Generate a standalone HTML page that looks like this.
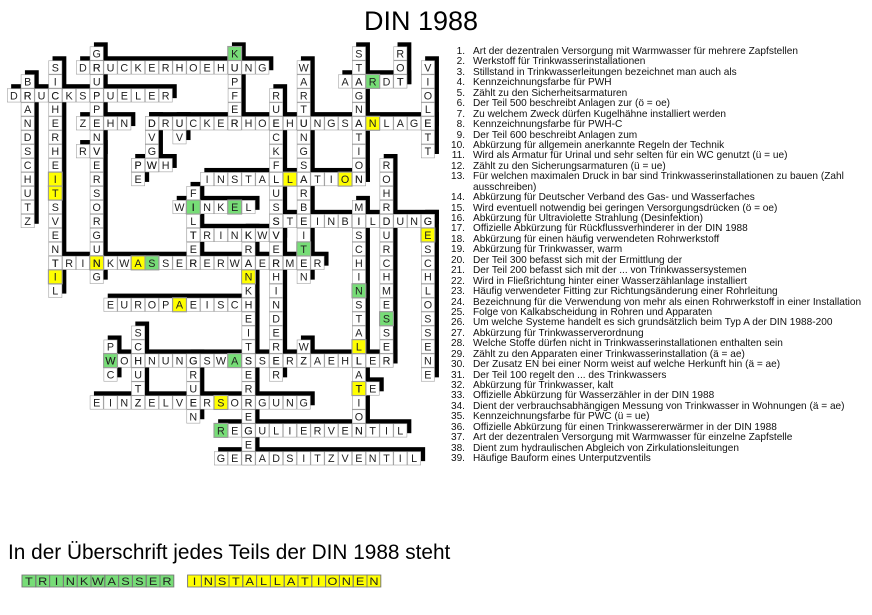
<!DOCTYPE html>
<html><head><meta charset="utf-8"><style>
html,body{margin:0;padding:0;background:#fff;}
body{width:872px;height:615px;position:relative;overflow:hidden;font-family:"Liberation Sans",Arial,sans-serif;}
#title{position:absolute;left:0;width:842px;top:6px;text-align:center;font-size:27px;color:#000;}
#clues{position:absolute;left:445px;top:47px;font-size:10.1px;color:#111;line-height:10.45px;white-space:nowrap;}
#clues div{height:10.45px;}
#clues span{display:inline-block;width:20px;text-align:right;margin-right:8px;}
#bt{position:absolute;left:8px;top:541px;font-size:20.8px;color:#000;white-space:nowrap;}
svg{position:absolute;left:0;top:0;}
</style></head><body>
<div id="title">DIN 1988</div>
<svg width="872" height="615" viewBox="0 0 872 615">
<defs>
<pattern id="p" width="1" height="1" patternUnits="userSpaceOnUse"><rect width="1" height="1" fill="#fff" stroke="#9a9a9a" stroke-width="0.08"/></pattern>
</defs>
<g transform="translate(7,46.5) scale(13.8,13.96)">
<g fill="#000" transform="translate(0.3,-0.3)">
<rect x="5" y="1" width="14" height="1"/><rect x="0" y="3" width="12" height="1"/><rect x="24" y="2" width="5" height="1"/><rect x="5" y="5" width="4" height="1"/><rect x="10" y="5" width="21" height="1"/><rect x="5" y="7" width="2" height="1"/><rect x="9" y="8" width="3" height="1"/><rect x="14" y="9" width="12" height="1"/><rect x="12" y="11" width="6" height="1"/><rect x="19" y="12" width="12" height="1"/><rect x="13" y="13" width="7" height="1"/><rect x="3" y="15" width="20" height="1"/><rect x="7" y="18" width="11" height="1"/><rect x="7" y="22" width="21" height="1"/><rect x="25" y="24" width="2" height="1"/><rect x="6" y="25" width="16" height="1"/><rect x="15" y="27" width="14" height="1"/><rect x="15" y="29" width="15" height="1"/>
<rect x="6" y="0" width="1" height="17"/><rect x="16" y="0" width="1" height="6"/><rect x="3" y="1" width="1" height="17"/><rect x="1" y="2" width="1" height="11"/><rect x="10" y="5" width="1" height="4"/><rect x="12" y="5" width="1" height="2"/><rect x="9" y="8" width="1" height="2"/><rect x="21" y="1" width="1" height="16"/><rect x="19" y="3" width="1" height="21"/><rect x="25" y="0" width="1" height="10"/><rect x="28" y="0" width="1" height="3"/><rect x="30" y="1" width="1" height="7"/><rect x="27" y="8" width="1" height="15"/><rect x="30" y="12" width="1" height="12"/><rect x="25" y="11" width="1" height="17"/><rect x="13" y="10" width="1" height="6"/><rect x="17" y="13" width="1" height="17"/><rect x="7" y="21" width="1" height="3"/><rect x="9" y="20" width="1" height="6"/><rect x="13" y="22" width="1" height="5"/><rect x="21" y="21" width="1" height="2"/>
</g>
<g fill="url(#p)">
<rect x="5" y="1" width="14" height="1"/><rect x="0" y="3" width="12" height="1"/><rect x="24" y="2" width="5" height="1"/><rect x="5" y="5" width="4" height="1"/><rect x="10" y="5" width="21" height="1"/><rect x="5" y="7" width="2" height="1"/><rect x="9" y="8" width="3" height="1"/><rect x="14" y="9" width="12" height="1"/><rect x="12" y="11" width="6" height="1"/><rect x="19" y="12" width="12" height="1"/><rect x="13" y="13" width="7" height="1"/><rect x="3" y="15" width="20" height="1"/><rect x="7" y="18" width="11" height="1"/><rect x="7" y="22" width="21" height="1"/><rect x="25" y="24" width="2" height="1"/><rect x="6" y="25" width="16" height="1"/><rect x="15" y="27" width="14" height="1"/><rect x="15" y="29" width="15" height="1"/>
<rect x="6" y="0" width="1" height="17"/><rect x="16" y="0" width="1" height="6"/><rect x="3" y="1" width="1" height="17"/><rect x="1" y="2" width="1" height="11"/><rect x="10" y="5" width="1" height="4"/><rect x="12" y="5" width="1" height="2"/><rect x="9" y="8" width="1" height="2"/><rect x="21" y="1" width="1" height="16"/><rect x="19" y="3" width="1" height="21"/><rect x="25" y="0" width="1" height="10"/><rect x="28" y="0" width="1" height="3"/><rect x="30" y="1" width="1" height="7"/><rect x="27" y="8" width="1" height="15"/><rect x="30" y="12" width="1" height="12"/><rect x="25" y="11" width="1" height="17"/><rect x="13" y="10" width="1" height="6"/><rect x="17" y="13" width="1" height="17"/><rect x="7" y="21" width="1" height="3"/><rect x="9" y="20" width="1" height="6"/><rect x="13" y="22" width="1" height="5"/><rect x="21" y="21" width="1" height="2"/>
</g>
<g stroke="#9a9a9a" stroke-width="0.08">
<g fill="#77dd77">
<rect x="16" y="0" width="1" height="1"/><rect x="26" y="2" width="1" height="1"/><rect x="13" y="11" width="1" height="1"/><rect x="16" y="11" width="1" height="1"/><rect x="21" y="14" width="1" height="1"/><rect x="10" y="15" width="1" height="1"/><rect x="25" y="17" width="1" height="1"/><rect x="27" y="19" width="1" height="1"/><rect x="7" y="22" width="1" height="1"/><rect x="16" y="22" width="1" height="1"/><rect x="15" y="27" width="1" height="1"/>
</g>
<g fill="#ffff00">
<rect x="26" y="5" width="1" height="1"/><rect x="20" y="9" width="1" height="1"/><rect x="24" y="9" width="1" height="1"/><rect x="3" y="9" width="1" height="1"/><rect x="3" y="10" width="1" height="1"/><rect x="30" y="13" width="1" height="1"/><rect x="6" y="15" width="1" height="1"/><rect x="9" y="15" width="1" height="1"/><rect x="3" y="16" width="1" height="1"/><rect x="17" y="16" width="1" height="1"/><rect x="12" y="18" width="1" height="1"/><rect x="25" y="21" width="1" height="1"/><rect x="25" y="24" width="1" height="1"/><rect x="15" y="25" width="1" height="1"/>
</g>
</g>
<g font-family="Liberation Sans, Arial, sans-serif" font-size="0.78" fill="#222" text-anchor="middle">
<text x="5.5 6.5 7.5 8.5 9.5 10.5 11.5 12.5 13.5 14.5 15.5 16.5 17.5 18.5" y="1.78">DRUCKERHOEHUNG</text>
<text x="0.5 1.5 2.5 3.5 4.5 5.5 6.5 7.5 8.5 9.5 10.5 11.5" y="3.78">DRUCKSPUELER</text>
<text x="24.5 25.5 26.5 27.5 28.5" y="2.78">AARDT</text>
<text x="5.5 6.5 7.5 8.5" y="5.78">ZEHN</text>
<text x="10.5 11.5 12.5 13.5 14.5 15.5 16.5 17.5 18.5 19.5 20.5 21.5 22.5 23.5 24.5 25.5 26.5 27.5 28.5 29.5 30.5" y="5.78">DRUCKERHOEHUNGSANLAGE</text>
<text x="5.5 6.5" y="7.78">RV</text>
<text x="9.5 10.5 11.5" y="8.78">PWH</text>
<text x="14.5 15.5 16.5 17.5 18.5 19.5 20.5 21.5 22.5 23.5 24.5 25.5" y="9.78">INSTALLATION</text>
<text x="12.5 13.5 14.5 15.5 16.5 17.5" y="11.78">WINKEL</text>
<text x="19.5 20.5 21.5 22.5 23.5 24.5 25.5 26.5 27.5 28.5 29.5 30.5" y="12.78">STEINBILDUNG</text>
<text x="13.5 14.5 15.5 16.5 17.5 18.5 19.5" y="13.78">TRINKWV</text>
<text x="3.5 4.5 5.5 6.5 7.5 8.5 9.5 10.5 11.5 12.5 13.5 14.5 15.5 16.5 17.5 18.5 19.5 20.5 21.5 22.5" y="15.78">TRINKWASSERERWAERMER</text>
<text x="7.5 8.5 9.5 10.5 11.5 12.5 13.5 14.5 15.5 16.5 17.5" y="18.78">EUROPAEISCH</text>
<text x="7.5 8.5 9.5 10.5 11.5 12.5 13.5 14.5 15.5 16.5 17.5 18.5 19.5 20.5 21.5 22.5 23.5 24.5 25.5 26.5 27.5" y="22.78">WOHNUNGSWASSERZAEHLER</text>
<text x="25.5 26.5" y="24.78">TE</text>
<text x="6.5 7.5 8.5 9.5 10.5 11.5 12.5 13.5 14.5 15.5 16.5 17.5 18.5 19.5 20.5 21.5" y="25.78">EINZELVERSORGUNG</text>
<text x="15.5 16.5 17.5 18.5 19.5 20.5 21.5 22.5 23.5 24.5 25.5 26.5 27.5 28.5" y="27.78">REGULIERVENTIL</text>
<text x="15.5 16.5 17.5 18.5 19.5 20.5 21.5 22.5 23.5 24.5 25.5 26.5 27.5 28.5 29.5" y="29.78">GERADSITZVENTIL</text>
<text x="6.5 6.5 6.5 6.5 6.5 6.5 6.5 6.5 6.5 6.5 6.5 6.5 6.5 6.5 6.5 6.5 6.5" y="0.78 1.78 2.78 3.78 4.78 5.78 6.78 7.78 8.78 9.78 10.78 11.78 12.78 13.78 14.78 15.78 16.78">GRUPPENVERSORGUNG</text>
<text x="16.5 16.5 16.5 16.5 16.5 16.5" y="0.78 1.78 2.78 3.78 4.78 5.78">KUPFER</text>
<text x="3.5 3.5 3.5 3.5 3.5 3.5 3.5 3.5 3.5 3.5 3.5 3.5 3.5 3.5 3.5 3.5 3.5" y="1.78 2.78 3.78 4.78 5.78 6.78 7.78 8.78 9.78 10.78 11.78 12.78 13.78 14.78 15.78 16.78 17.78">SICHERHEITSVENTIL</text>
<text x="1.5 1.5 1.5 1.5 1.5 1.5 1.5 1.5 1.5 1.5 1.5" y="2.78 3.78 4.78 5.78 6.78 7.78 8.78 9.78 10.78 11.78 12.78">BRANDSCHUTZ</text>
<text x="10.5 10.5 10.5 10.5" y="5.78 6.78 7.78 8.78">DVGW</text>
<text x="12.5 12.5" y="5.78 6.78">UV</text>
<text x="9.5 9.5" y="8.78 9.78">PE</text>
<text x="21.5 21.5 21.5 21.5 21.5 21.5 21.5 21.5 21.5 21.5 21.5 21.5 21.5 21.5 21.5 21.5" y="1.78 2.78 3.78 4.78 5.78 6.78 7.78 8.78 9.78 10.78 11.78 12.78 13.78 14.78 15.78 16.78">WARTUNGSARBEITEN</text>
<text x="19.5 19.5 19.5 19.5 19.5 19.5 19.5 19.5 19.5 19.5 19.5 19.5 19.5 19.5 19.5 19.5 19.5 19.5 19.5 19.5 19.5" y="3.78 4.78 5.78 6.78 7.78 8.78 9.78 10.78 11.78 12.78 13.78 14.78 15.78 16.78 17.78 18.78 19.78 20.78 21.78 22.78 23.78">RUECKFLUSSVERHINDERER</text>
<text x="25.5 25.5 25.5 25.5 25.5 25.5 25.5 25.5 25.5 25.5" y="0.78 1.78 2.78 3.78 4.78 5.78 6.78 7.78 8.78 9.78">STAGNATION</text>
<text x="28.5 28.5 28.5" y="0.78 1.78 2.78">ROT</text>
<text x="30.5 30.5 30.5 30.5 30.5 30.5 30.5" y="1.78 2.78 3.78 4.78 5.78 6.78 7.78">VIOLETT</text>
<text x="27.5 27.5 27.5 27.5 27.5 27.5 27.5 27.5 27.5 27.5 27.5 27.5 27.5 27.5 27.5" y="8.78 9.78 10.78 11.78 12.78 13.78 14.78 15.78 16.78 17.78 18.78 19.78 20.78 21.78 22.78">ROHRDURCHMESSER</text>
<text x="30.5 30.5 30.5 30.5 30.5 30.5 30.5 30.5 30.5 30.5 30.5 30.5" y="12.78 13.78 14.78 15.78 16.78 17.78 18.78 19.78 20.78 21.78 22.78 23.78">GESCHLOSSENE</text>
<text x="25.5 25.5 25.5 25.5 25.5 25.5 25.5 25.5 25.5 25.5 25.5 25.5 25.5 25.5 25.5 25.5 25.5" y="11.78 12.78 13.78 14.78 15.78 16.78 17.78 18.78 19.78 20.78 21.78 22.78 23.78 24.78 25.78 26.78 27.78">MISCHINSTALLATION</text>
<text x="13.5 13.5 13.5 13.5 13.5 13.5" y="10.78 11.78 12.78 13.78 14.78 15.78">FILTER</text>
<text x="17.5 17.5 17.5 17.5 17.5 17.5 17.5 17.5 17.5 17.5 17.5 17.5 17.5 17.5 17.5 17.5 17.5" y="13.78 14.78 15.78 16.78 17.78 18.78 19.78 20.78 21.78 22.78 23.78 24.78 25.78 26.78 27.78 28.78 29.78">KRANKHEITSERREGER</text>
<text x="7.5 7.5 7.5" y="21.78 22.78 23.78">PWC</text>
<text x="9.5 9.5 9.5 9.5 9.5 9.5" y="20.78 21.78 22.78 23.78 24.78 25.78">SCHUTZ</text>
<text x="13.5 13.5 13.5 13.5 13.5" y="22.78 23.78 24.78 25.78 26.78">GRUEN</text>
<text x="21.5 21.5" y="21.78 22.78">WZ</text>
</g>
</g>
<g transform="translate(22,575) scale(13.8,12)">
<rect x="0" y="0" width="11" height="1" fill="#77dd77"/>
<rect x="12" y="0" width="14" height="1" fill="#ffff00"/>
<g stroke="#777" stroke-width="0.07" fill="none">
<rect x="0" y="0" width="1" height="1"/><rect x="1" y="0" width="1" height="1"/><rect x="2" y="0" width="1" height="1"/><rect x="3" y="0" width="1" height="1"/><rect x="4" y="0" width="1" height="1"/><rect x="5" y="0" width="1" height="1"/><rect x="6" y="0" width="1" height="1"/><rect x="7" y="0" width="1" height="1"/><rect x="8" y="0" width="1" height="1"/><rect x="9" y="0" width="1" height="1"/><rect x="10" y="0" width="1" height="1"/>
<rect x="12" y="0" width="1" height="1"/><rect x="13" y="0" width="1" height="1"/><rect x="14" y="0" width="1" height="1"/><rect x="15" y="0" width="1" height="1"/><rect x="16" y="0" width="1" height="1"/><rect x="17" y="0" width="1" height="1"/><rect x="18" y="0" width="1" height="1"/><rect x="19" y="0" width="1" height="1"/><rect x="20" y="0" width="1" height="1"/><rect x="21" y="0" width="1" height="1"/><rect x="22" y="0" width="1" height="1"/><rect x="23" y="0" width="1" height="1"/><rect x="24" y="0" width="1" height="1"/><rect x="25" y="0" width="1" height="1"/>
</g>
<g font-family="Liberation Sans, Arial, sans-serif" font-size="0.92" fill="#222" text-anchor="middle">
<text x="0.5 1.5 2.5 3.5 4.5 5.5 6.5 7.5 8.5 9.5 10.5" y="0.84">TRINKWASSER</text>
<text x="12.5 13.5 14.5 15.5 16.5 17.5 18.5 19.5 20.5 21.5 22.5 23.5 24.5 25.5" y="0.84">INSTALLATIONEN</text>
</g>
</g>
</svg>
<div id="clues">
<div><span>1.</span>Art der dezentralen Versorgung mit Warmwasser für mehrere Zapfstellen</div>
<div><span>2.</span>Werkstoff für Trinkwasserinstallationen</div>
<div><span>3.</span>Stillstand in Trinkwasserleitungen bezeichnet man auch als</div>
<div><span>4.</span>Kennzeichnungsfarbe für PWH</div>
<div><span>5.</span>Zählt zu den Sicherheitsarmaturen</div>
<div><span>6.</span>Der Teil 500 beschreibt Anlagen zur (ö = oe)</div>
<div><span>7.</span>Zu welchem Zweck dürfen Kugelhähne installiert werden</div>
<div><span>8.</span>Kennzeichnungsfarbe für PWH-C</div>
<div><span>9.</span>Der Teil 600 beschreibt Anlagen zum</div>
<div><span>10.</span>Abkürzung für allgemein anerkannte Regeln der Technik</div>
<div><span>11.</span>Wird als Armatur für Urinal und sehr selten für ein WC genutzt (ü = ue)</div>
<div><span>12.</span>Zählt zu den Sicherungsarmaturen (ü = ue)</div>
<div><span>13.</span>Für welchen maximalen Druck in bar sind Trinkwasserinstallationen zu bauen (Zahl</div>
<div><span></span>ausschreiben)</div>
<div><span>14.</span>Abkürzung für Deutscher Verband des Gas- und Wasserfaches</div>
<div><span>15.</span>Wird eventuell notwendig bei geringen Versorgungsdrücken (ö = oe)</div>
<div><span>16.</span>Abkürzung für Ultraviolette Strahlung (Desinfektion)</div>
<div><span>17.</span>Offizielle Abkürzung für Rückflussverhinderer in der DIN 1988</div>
<div><span>18.</span>Abkürzung für einen häufig verwendeten Rohrwerkstoff</div>
<div><span>19.</span>Abkürzung für Trinkwasser, warm</div>
<div><span>20.</span>Der Teil 300 befasst sich mit der Ermittlung der</div>
<div><span>21.</span>Der Teil 200 befasst sich mit der ... von Trinkwassersystemen</div>
<div><span>22.</span>Wird in Fließrichtung hinter einer Wasserzählanlage installiert</div>
<div><span>23.</span>Häufig verwendeter Fitting zur Richtungsänderung einer Rohrleitung</div>
<div><span>24.</span>Bezeichnung für die Verwendung von mehr als einen Rohrwerkstoff in einer Installation</div>
<div><span>25.</span>Folge von Kalkabscheidung in Rohren und Apparaten</div>
<div><span>26.</span>Um welche Systeme handelt es sich grundsätzlich beim Typ A der DIN 1988-200</div>
<div><span>27.</span>Abkürzung für Trinkwasserverordnung</div>
<div><span>28.</span>Welche Stoffe dürfen nicht in Trinkwasserinstallationen enthalten sein</div>
<div><span>29.</span>Zählt zu den Apparaten einer Trinkwasserinstallation (ä = ae)</div>
<div><span>30.</span>Der Zusatz EN bei einer Norm weist auf welche Herkunft hin (ä = ae)</div>
<div><span>31.</span>Der Teil 100 regelt den ... des Trinkwassers</div>
<div><span>32.</span>Abkürzung für Trinkwasser, kalt</div>
<div><span>33.</span>Offizielle Abkürzung für Wasserzähler in der DIN 1988</div>
<div><span>34.</span>Dient der verbrauchsabhängigen Messung von Trinkwasser in Wohnungen (ä = ae)</div>
<div><span>35.</span>Kennzeichnungsfarbe für PWC (ü = ue)</div>
<div><span>36.</span>Offizielle Abkürzung für einen Trinkwassererwärmer in der DIN 1988</div>
<div><span>37.</span>Art der dezentralen Versorgung mit Warmwasser für einzelne Zapfstelle</div>
<div><span>38.</span>Dient zum hydraulischen Abgleich von Zirkulationsleitungen</div>
<div><span>39.</span>Häufige Bauform eines Unterputzventils</div>
</div>
<div id="bt">In der Überschrift jedes Teils der DIN 1988 steht</div>
</body></html>
